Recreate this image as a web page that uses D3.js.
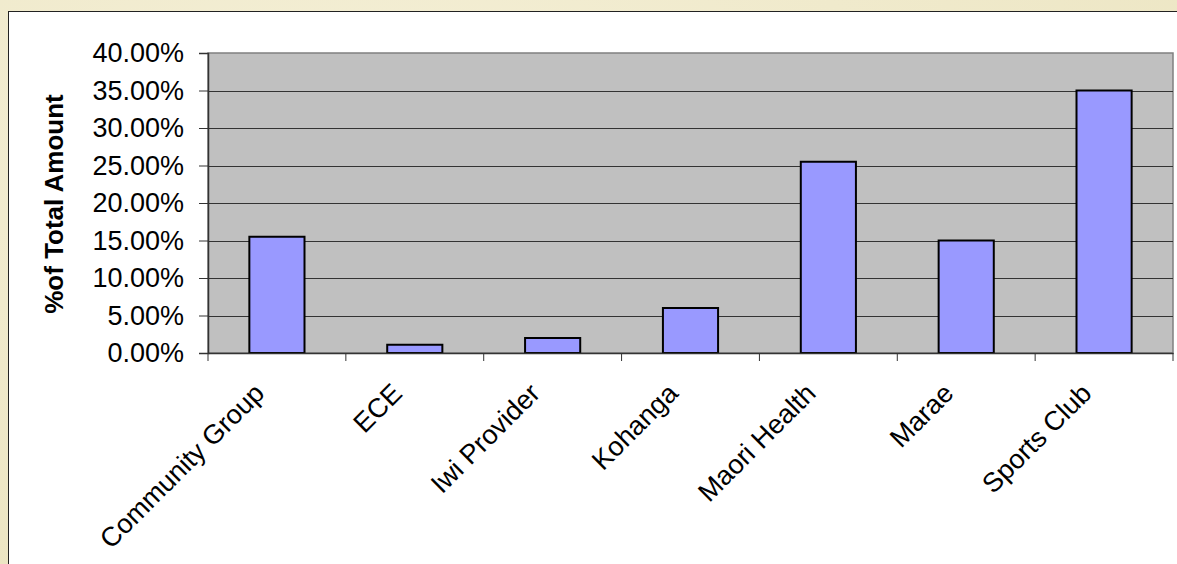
<!DOCTYPE html>
<html><head><meta charset="utf-8">
<script src="https://cdn.jsdelivr.net/npm/d3@7"></script>
<style>html,body{margin:0;padding:0;background:#efe9c6;}svg{display:block;}</style>
</head><body>
<svg id="chart" width="1177" height="564"></svg>
<script>
const categories = ["Community Group","ECE","Iwi Provider","Kohanga","Maori Health","Marae","Sports Club"];
const values = [15.5, 1.1, 2.0, 6.0, 25.5, 15.0, 35.0];
const yTicks = [0,5,10,15,20,25,30,35,40];
const yLabel = "%of Total Amount";

const svg = d3.select("#chart");
const W = 1177, H = 564;
const font = "'Liberation Sans', Arial, sans-serif";

// background
const defs = svg.append("defs");
const rg = defs.append("radialGradient").attr("id","bg").attr("cx","0.3").attr("cy","0.2").attr("r","0.9");
rg.append("stop").attr("offset","0").attr("stop-color","#f4efd6");
rg.append("stop").attr("offset","1").attr("stop-color","#ece5c2");
svg.append("rect").attr("width",W).attr("height",H).attr("fill","url(#bg)");

// chart box
svg.append("rect").attr("x",8.5).attr("y",11.5).attr("width",W+10).attr("height",H+10)
  .attr("fill","#fff").attr("stroke","#222").attr("stroke-width",1);

const m = {l:208, t:53, r:1173, b:353};
const x = d3.scaleBand().domain(categories).range([m.l, m.r]).paddingInner(0).paddingOuter(0);
const y = d3.scaleLinear().domain([0,40]).range([m.b, m.t]);

// plot area
svg.append("rect").attr("x",m.l).attr("y",m.t).attr("width",m.r-m.l).attr("height",m.b-m.t)
  .attr("fill","#c0c0c0").attr("stroke","#808080").attr("stroke-width",1.5);

// gridlines
svg.append("g").selectAll("line").data(yTicks.filter(d=>d>0 && d<40)).join("line")
  .attr("x1",m.l).attr("x2",m.r).attr("y1",d=>Math.round(y(d))+0.5).attr("y2",d=>Math.round(y(d))+0.5)
  .attr("stroke","#333").attr("stroke-width",1);

// bars
const bw = x.bandwidth()/2.5;
svg.append("g").selectAll("rect").data(values).join("rect")
  .attr("x",(d,i)=>x(categories[i]) + x.bandwidth()/2 - bw/2)
  .attr("y",d=>y(d))
  .attr("width",bw)
  .attr("height",d=>y(0)-y(d))
  .attr("fill","#9999ff").attr("stroke","#000").attr("stroke-width",2);

// y axis
const ya = svg.append("g").attr("transform",`translate(${m.l},0)`)
  .call(d3.axisLeft(y).tickValues(yTicks).tickSize(9).tickPadding(15).tickFormat(d=>d.toFixed(2)+"%"));
ya.select(".domain").attr("stroke","#333").attr("stroke-width",1.5);
ya.selectAll(".tick line").attr("stroke","#333");
ya.selectAll("text").attr("font-family",font).attr("font-size",27).attr("fill","#000");

// x axis
const xa = svg.append("g").attr("transform",`translate(0,${m.b})`)
  .call(d3.axisBottom(x).tickSize(0).tickFormat(""));
xa.select(".domain").attr("stroke","#333").attr("stroke-width",1.5);
xa.selectAll(".tick").remove();
const bounds = categories.map(c=>x(c)).concat([m.r]);
xa.selectAll("line.tk").data(bounds).join("line").attr("class","tk")
  .attr("x1",d=>d).attr("x2",d=>d).attr("y1",0).attr("y2",8).attr("stroke","#333");

svg.append("g").selectAll("text").data(categories).join("text")
  .attr("transform",d=>`translate(${x(d)+x.bandwidth()/2-11},${m.b+42}) rotate(-45)`)
  .attr("text-anchor","end")
  .attr("font-family",font).attr("font-size",27).attr("fill","#000")
  .text(d=>d);

// y label
svg.append("text").attr("transform",`translate(63,${(m.t+m.b)/2 + 1}) rotate(-90)`)
  .attr("text-anchor","middle")
  .attr("font-family",font).attr("font-size",26).attr("font-weight","bold").text(yLabel);
</script>
</body></html>
